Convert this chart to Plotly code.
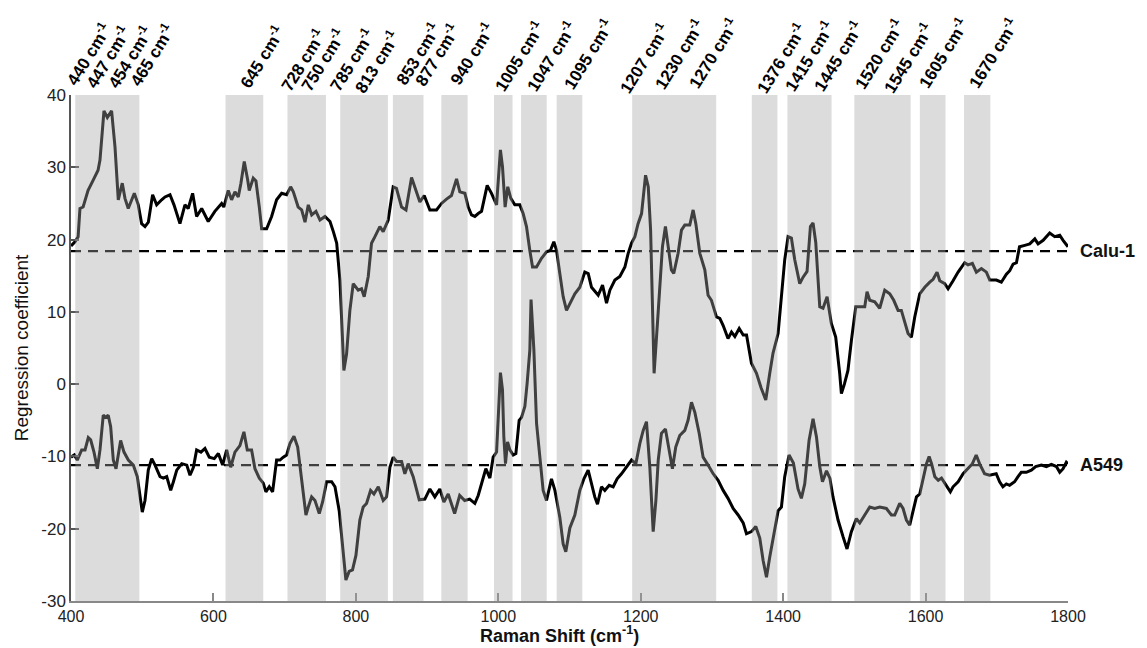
import plotly.graph_objects as go

# ---------------- data ----------------
calu_x = [400,405.6,410,412.6,417,424,431,438,440.7,446.3,
          451,457,461.8,466.4,472,475.8,480.4,488.9,494.5,499.2,
          503.9,508.6,514.6,520.3,527.3,532,539,544.6,553,560,
          564.6,570.8,576.4,583.5,592.7,602,611.5,614.6,620.8,625.5,
          630.2,634.9,638.6,643.3,648,650.3,655.9,659.7,664.4,667.7,
          674.7,681.7,688.7,695.8,702.8,708.4,712.2,719,723.9,728.6,
          733.2,738,744,749.6,756.6,763.7,768.4,773.1,777.6,780,
          783.2,787,791.6,796.3,803.3,808,811.7,817.4,822,826.8,
          833.7,838.4,845.4,852.4,857,864.2,870.4,878.2,882.9,889.9,
          896,903.9,913.3,920.3,927.3,934.3,941.4,946,953.1,957.8,
          962.4,967.1,971.8,976.5,984.4,990.5,997.6,999.8,1003,1005.9,
          1009.6,1013.3,1017.6,1023.2,1030.2,1034.9,1039.6,1044.3,1048.1,1053.7,
          1060.7,1067.7,1073.3,1078,1081.8,1086.4,1091.1,1095.8,1100.5,1107.5,
          1114.5,1121.5,1126.3,1130.9,1140.3,1146.4,1152,1156.7,1163.7,1170.7,
          1177.8,1182.4,1187.1,1191.8,1196.3,1201.2,1206.8,1210.6,1213.9,1216.5,
          1218.8,1224.4,1230.5,1234.7,1238.9,1243.1,1246.4,1252.5,1257.2,1261.9,
          1268.9,1273.6,1277.4,1283,1290,1294.6,1299.3,1306.4,1311.1,1315.8,
          1322.6,1327.5,1332.2,1338.3,1343.9,1348.6,1355.5,1362.6,1369,1375.6,
          1381.2,1385.8,1392.9,1397.6,1402.2,1406.9,1411.6,1416.3,1423.3,1428,
          1433.6,1438.3,1442,1445.8,1451.4,1456,1461.7,1467.7,1473.8,1479.4,
          1481.8,1486,1491,1495.9,1502,1507.6,1514.6,1517.8,1521.6,1528.6,
          1535.6,1542.7,1549.7,1555.3,1561.4,1566,1575.4,1580.1,1584.8,1591.8,
          1598.9,1605.9,1610.6,1616.1,1619.9,1626.9,1631.6,1638.6,1645.7,1654.9,
          1659.6,1665.7,1671.3,1678.4,1685.4,1690.1,1699.4,1706.4,1713.5,1718.2,
          1722.9,1727.6,1731.9,1739.3,1746.3,1753.4,1758,1765.1,1774.3,1781.4,
          1788.4,1793.1,1800]
calu_y = [19.1,19.7,20.4,24.3,24.5,26.8,28.2,29.6,31,37.8,
          36.9,37.8,32.8,25.5,27.8,25.7,24.3,26.4,24.8,22.2,
          21.8,22.4,26.2,24.8,25.5,25.9,26.2,24.8,22.2,24.8,
          24.3,26.4,23.2,24.3,22.5,23.9,25,24.5,26.8,25.5,
          26.6,25.9,27.8,30.8,28.3,26.8,28.5,28.1,24.5,21.5,
          21.5,23.2,25.5,26.4,26.2,27.3,26.6,24.5,24.1,22.4,
          24.8,23.4,23.9,22.7,23.2,22.5,21.1,19.5,14.4,9.8,
          1.9,4.2,10.2,13.9,13,13.2,12.1,14.9,19.5,20.4,
          21.8,21.1,22.7,27.3,27.1,24.5,24.1,28.6,27.3,25.2,
          26.1,24.1,24.1,25,25.6,26.1,28.4,26.6,26.4,24.5,
          23.4,23.2,23.6,23.9,27.5,26.4,24.8,28.2,32.4,30.1,
          24.5,27.3,25.7,24.8,24.8,23.6,21.8,18.5,16.2,16.2,
          17.4,18.3,18.5,19.7,18.5,15.3,12.1,10.2,11.1,12.5,
          13.4,15.5,15.3,13.4,12.3,13.7,11.2,13,14.4,14.9,
          16.2,18.1,19.5,20.4,22.2,23.6,28.9,27.3,21.3,9.8,
          1.5,9.8,19,21.8,19,15.8,15.3,18.1,21.3,22,
          22,24.1,22.2,18.1,15.8,12.3,11.6,9.3,9.1,8.1,
          6.3,7.2,6.6,7.7,6.8,6.8,2.9,1.5,-0.5,-2.2,
          1.5,4.3,7,12.1,17.2,20.4,20.2,17.2,13.9,14.8,
          15.6,21.8,22.3,19.6,10.7,10.5,12.1,8.4,6.5,1.5,
          -1.3,0,1.9,6.1,10.7,10.7,10.7,12.8,11.6,11.4,
          10.5,13,12.5,11.6,10.2,10.2,7,6.5,9.3,12.5,
          13.4,14.1,14.5,15.5,14.3,13.9,13.2,14.3,15.5,16.8,
          16.5,16.7,15.5,16,15.5,14.4,14.4,14.1,15.2,15.7,
          16.6,16.8,19,19.2,19.4,20.1,19.4,19.9,20.9,20.4,
          20.6,19.9,19]

a549_x = [400,404.7,408.8,415,419.7,424.3,427.6,432.3,437,440.7,
          445.3,449,452.3,455.7,459.4,463.2,469.7,474.4,480.5,487.5,
          493.1,496.9,500.1,503.9,508.5,513.3,518,525,529.7,534.4,
          540,543.8,548.5,555.5,562.6,567.1,571.9,576.4,582.5,588.1,
          594.2,601.2,606.9,612.9,618.6,624.2,630.2,637.2,642.8,647.5,
          653.6,658.3,664.4,670,673.7,678.4,683.1,688.7,693.4,698.1,
          702.8,707.5,713.1,718.3,723.9,729.9,733.2,737.9,742.6,748.6,
          753.3,758.9,766,770.7,776.6,782.2,786,790.6,795.3,800.1,
          805.6,810.3,815,820.7,825.4,831.5,838.4,843.1,847.8,852.4,
          857.2,864.2,868.8,873.5,880.5,889,896.9,903.9,910.9,917.9,
          923.6,929.7,938.7,945.8,952.8,959.8,967.1,971.8,976.5,982.5,
          988.2,992.8,997.6,999.8,1003,1005.9,1007.8,1010.1,1013,1016.3,
          1020.9,1024.7,1029.3,1032.7,1037.3,1040.5,1044.3,1046,1050,1053.7,
          1058.3,1063,1067.7,1074.7,1079.5,1086.4,1091.1,1094.8,1100.5,1107.5,
          1114.5,1120.2,1126.2,1130.9,1135.5,1139.3,1144.9,1149.6,1155.7,1161.3,
          1166.9,1173,1180,1187.1,1193.2,1198.8,1203.5,1208.1,1212.8,1215.2,
          1217.5,1221.3,1224.6,1229.1,1234.7,1239.9,1244.5,1249.2,1254.8,1261.9,
          1266.5,1271.3,1276,1282.1,1287.6,1294.6,1301.7,1308.7,1315.8,1322.6,
          1329.8,1336.8,1343.9,1348.5,1355.5,1361.6,1367.2,1371.9,1376.6,1381.2,
          1388.3,1393,1397.6,1402.2,1408.3,1414.4,1420.9,1425.6,1430.3,1436.4,
          1442,1446.8,1451.4,1455.2,1460.9,1465.6,1470,1477.1,1484.1,1489.7,
          1495.8,1502.8,1507.6,1514.6,1521.6,1528.6,1535.6,1545,1552,1556.7,
          1563.7,1568.4,1573.1,1577.7,1582.5,1587.2,1591.8,1596.4,1601.3,1605,
          1608.4,1613,1617.8,1622.4,1629.4,1634.8,1638.6,1645.7,1652.7,1659.8,
          1665.8,1671.1,1675.8,1682.8,1689.8,1699.2,1704,1708.6,1713.4,1718,
          1725,1729.8,1734.4,1741.5,1748.5,1754.6,1762.6,1769.6,1776.6,1783.7,
          1788.4,1793.1,1797.7,1800]
a549_y = [-10.1,-9.8,-10.5,-9.1,-9.1,-7.4,-7.7,-9.4,-11.7,-9.1,
          -4.3,-4.6,-4.3,-5.9,-10.5,-11.7,-7.8,-9.4,-10.5,-11.2,
          -12.8,-15.6,-17.7,-16.1,-11.9,-10.3,-11.2,-12.8,-13,-12.8,
          -14.7,-13.5,-11.9,-11,-11.2,-12.6,-11.5,-9.1,-9.4,-8.9,
          -10.1,-10.3,-9.6,-11.2,-9.1,-11.5,-9.4,-8.5,-6.6,-9.1,
          -9.1,-11.7,-13,-13.7,-14.9,-14.2,-14.9,-10.5,-10.5,-10.1,
          -9.8,-8.2,-7.2,-8.7,-13.3,-18.1,-17,-15.6,-16.1,-17.9,
          -16.3,-13.5,-13.5,-14.2,-17.5,-23,-27.1,-25.9,-25.7,-23.7,
          -18.8,-17,-16.5,-14.7,-15.2,-14.2,-16.1,-15.6,-11.5,-10.1,
          -10.7,-10.7,-12.4,-11,-12.8,-16,-15.9,-14.5,-15.6,-14.5,
          -16.3,-15.2,-17.9,-15.4,-16.1,-15.9,-16.5,-15.4,-13.8,-11.7,
          -13,-10.1,-9.4,-4.5,1.6,-0.8,-7.3,-11,-8,-9.1,
          -9.8,-9.6,-5,-4.6,-3.1,0.1,4.7,11.7,4.7,-5.4,
          -10.5,-14.7,-16.1,-13.1,-14.7,-18.4,-22.1,-23.2,-19.9,-18.1,
          -14.7,-13.1,-11.9,-13.8,-15.6,-16.6,-14.2,-14.7,-14,-14.2,
          -13.1,-12.4,-11.5,-10.5,-11,-8.2,-6.4,-5.2,-11.5,-16.1,
          -20.4,-16.1,-10.5,-6.8,-6.2,-9.1,-11.7,-8.7,-7.1,-6.4,
          -5,-2.5,-3.9,-6.8,-10.1,-11.2,-12.4,-13.3,-14.7,-15.8,
          -17.2,-18.1,-19.2,-20.7,-20.4,-19.7,-21.3,-24.4,-26.7,-23.9,
          -19.7,-17.5,-17,-12.8,-9.8,-10.9,-14.5,-15.8,-13.8,-7.8,
          -4.8,-7.3,-11.4,-13.5,-12,-13,-15.6,-18.8,-21.1,-22.8,
          -20.4,-18.6,-19.2,-18.1,-17,-17.2,-17,-17.2,-18.1,-18.1,
          -16.5,-17.2,-18.8,-19.5,-17.5,-15.6,-15.2,-13.3,-11,-10,
          -11,-12.8,-13.3,-13,-14,-14.9,-14.2,-13.5,-12.4,-11.7,
          -11,-9.8,-11,-12.4,-12.6,-12.4,-13.5,-14.2,-13.8,-14,
          -13.5,-12.8,-12.2,-12.2,-11.9,-11.4,-11.2,-11.4,-11.1,-11.4,
          -12.2,-11.7,-10.8,-11]

series_names = ["Calu-1", "A549"]
baselines = [18.4, -11.2]

band_start = [406, 617, 704, 778, 852, 920, 994, 1032, 1082, 1188, 1356, 1406, 1500, 1592, 1654]
band_end = [496, 670, 758, 845, 895, 957, 1020, 1068, 1118, 1306, 1392, 1468, 1579, 1628, 1691]

peak_labels = ["440", "447", "454", "465", "645", "728", "750", "785", "813", "853", "877",
               "940", "1005", "1047", "1095", "1207", "1230", "1270", "1376", "1415",
               "1445", "1520", "1545", "1605", "1670"]

x_ticks = [400, 600, 800, 1000, 1200, 1400, 1600, 1800]
y_ticks = [-30, -20, -10, 0, 10, 20, 30, 40]
y_ticktext = ["-30", "-20", "-10", "0", "10", "20", "30", "40"]

# label placement (layout, not data): centre x in axis units, centre y in paper units
label_cx = [423.9, 451.9, 482.8, 513.7, 668.1, 725.7, 753.7, 794.4, 829.5, 887.1, 913.8,
            962.9, 1028.9, 1073.8, 1125.7, 1204.4, 1253.5, 1301.2, 1396.7, 1436.0,
            1476.7, 1534.2, 1574.9, 1624.0, 1694.2]
label_cy = [1.081, 1.077, 1.077, 1.081, 1.077, 1.071, 1.071, 1.071, 1.067, 1.083, 1.081,
            1.083, 1.077, 1.077, 1.081, 1.073, 1.081, 1.083, 1.073, 1.077,
            1.077, 1.081, 1.073, 1.083, 1.083]

FONT = "Liberation Sans, Arial, sans-serif"

fig = go.Figure()

for xs, ys, name in [(calu_x, calu_y, series_names[0]), (a549_x, a549_y, series_names[1])]:
    fig.add_trace(go.Scatter(x=xs, y=ys, mode="lines", name=name,
                             line=dict(color="#000000", width=3), showlegend=False))

for b, name in zip(baselines, series_names):
    fig.add_trace(go.Scatter(x=[x_ticks[0], x_ticks[-1]], y=[b, b], mode="lines",
                             line=dict(color="#000000", width=2.2, dash="10px,7px"),
                             showlegend=False, hoverinfo="skip"))

shapes = []
for s, e in zip(band_start, band_end):
    shapes.append(dict(type="rect", xref="x", yref="y", x0=s, x1=e, y0=y_ticks[0], y1=y_ticks[-1],
                       fillcolor="rgb(165,165,165)", opacity=0.39, line=dict(width=0), layer="above"))

annotations = []
for lab, cx, cy in zip(peak_labels, label_cx, label_cy):
    annotations.append(dict(x=cx, y=cy, xref="x", yref="paper", text=f"<b>{lab} cm<sup>-1</sup></b>",
                            textangle=-58, showarrow=False, xanchor="center", yanchor="middle",
                            font=dict(family=FONT, size=17, color="#000")))
for b, name in zip(baselines, series_names):
    annotations.append(dict(x=1.01, y=b, xref="paper", yref="y", text=f"<b>{name}</b>",
                            showarrow=False, xanchor="left", yanchor="middle",
                            font=dict(family=FONT, size=18, color="#111")))
# x-axis title placed explicitly just below the tick labels
annotations.append(dict(x=0.49, y=-0.067, xref="paper", yref="paper",
                        text="<b>Raman Shift (cm<sup>-1</sup>)</b>", showarrow=False,
                        xanchor="center", yanchor="middle", borderpad=0,
                        font=dict(family=FONT, size=18, color="#111")))

fig.update_layout(
    template="none",
    width=1147, height=648,
    margin=dict(l=71, r=79, t=95, b=47),
    paper_bgcolor="white", plot_bgcolor="white",
    font=dict(family=FONT, color="#222"),
    shapes=shapes, annotations=annotations,
    showlegend=False,
)
fig.update_xaxes(range=[x_ticks[0], x_ticks[-1]], tickvals=x_ticks, ticks="inside", ticklen=8,
                 tickcolor="#888", tickwidth=1.5, showline=True, linecolor="#888", linewidth=1.5,
                 showgrid=False, zeroline=False, automargin=False,
                 tickfont=dict(family=FONT, size=16, color="#222"))
fig.update_yaxes(range=[y_ticks[0], y_ticks[-1]], tickvals=y_ticks, ticktext=y_ticktext,
                 ticks="inside", ticklen=8,
                 tickcolor="#555", tickwidth=1.5, showline=True, linecolor="#555", linewidth=1.5,
                 showgrid=False, zeroline=False, automargin=False,
                 tickfont=dict(family=FONT, size=17, color="#222"),
                 title=dict(text="Regression coefficient", standoff=8,
                            font=dict(family=FONT, size=19, color="#111")))

fig.write_html("out.html", config={"displayModeBar": False},
               post_script="document.body.style.margin='0px';document.body.style.padding='0px';")
